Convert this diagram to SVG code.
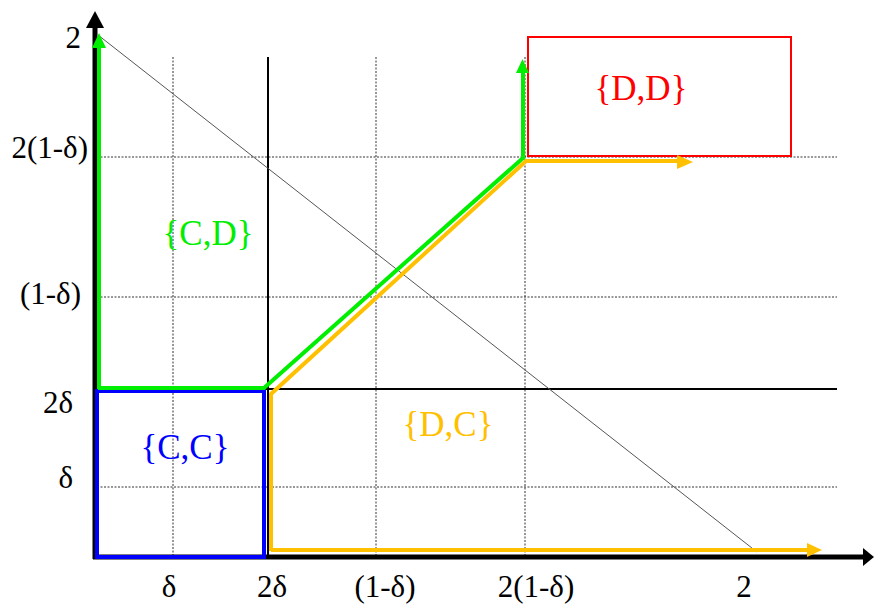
<svg xmlns="http://www.w3.org/2000/svg" width="874" height="606" viewBox="0 0 874 606">
<style>
.grid{stroke:#333;stroke-width:1;stroke-dasharray:2 1.5;fill:none}
.solid{stroke:#000;stroke-width:2;fill:none}
.axis{stroke:#000;stroke-width:5;fill:none}
.lbl{font-family:"Liberation Serif","Times New Roman",serif;font-size:31px;fill:#000}
.set{font-family:"Liberation Serif","Times New Roman",serif;font-size:35px;text-anchor:middle}
.g{stroke:#00EE00;stroke-width:4;fill:none}
.y{stroke:#FFC000;stroke-width:4;fill:none}
</style>
<rect width="874" height="606" fill="#fff"/>
<g id="grid">
<line class="grid" x1="173" y1="57" x2="173" y2="555"/>
<line class="grid" x1="376" y1="57" x2="376" y2="555"/>
<line class="grid" x1="525" y1="57" x2="525" y2="555"/>
<line class="grid" x1="97" y1="157" x2="837" y2="157"/>
<line class="grid" x1="97" y1="297" x2="837" y2="297"/>
<line class="grid" x1="97" y1="487" x2="837" y2="487"/>
<line class="solid" x1="268" y1="57" x2="268" y2="555"/>
<line class="solid" x1="97" y1="389" x2="837" y2="389"/>
</g>
<g id="axes">
<line class="axis" x1="95" y1="559" x2="95" y2="27"/>
<polygon points="86,28 95,11 104,28" fill="#000"/>
<line class="axis" x1="93" y1="557" x2="864" y2="557"/>
<polygon points="863,548 874,557 863,566" fill="#000"/>
</g>
<g id="diagonal">
<line x1="98" y1="35" x2="757" y2="552" stroke="#555" stroke-width="1"/>
</g>
<g id="labels">
<text class="lbl" x="81" y="48" text-anchor="end">2</text>
<text class="lbl" x="88" y="158" text-anchor="end">2(1-δ)</text>
<text class="lbl" x="81" y="304" text-anchor="end">(1-δ)</text>
<text class="lbl" x="73" y="413" text-anchor="end">2δ</text>
<text class="lbl" x="73" y="488" text-anchor="end">δ</text>
<text class="lbl" x="169" y="597" text-anchor="middle">δ</text>
<text class="lbl" x="272" y="597" text-anchor="middle">2δ</text>
<text class="lbl" x="385" y="597" text-anchor="middle">(1-δ)</text>
<text class="lbl" x="536" y="597" text-anchor="middle">2(1-δ)</text>
<text class="lbl" x="744" y="597" text-anchor="middle">2</text>
</g>
<g id="CC">
<rect x="97" y="391" width="167" height="166" fill="none" stroke="#0000FF" stroke-width="4"/>
<text class="set" x="185" y="459" fill="#0000FF">{C,C}</text>
</g>
<g id="DD">
<rect x="528" y="37" width="263" height="119" fill="none" stroke="#FF0000" stroke-width="2"/>
<text class="set" x="641" y="100" fill="#FF0000">{D,D}</text>
</g>
<g id="CD">
<text class="set" x="208" y="245" fill="#00EE00">{C,D}</text>
</g>
<g id="DC">
<text class="set" x="448" y="436" fill="#FFC000">{D,C}</text>
</g>
<g id="connectors">
<path class="g" d="M99,389 V47"/>
<polygon points="92,48 99,33 106,48" fill="#00EE00"/>
<path class="g" d="M98,388 H264 L523,158 V72"/>
<polygon points="516,73 522.5,59 529,73" fill="#00EE00"/>
<path class="y" d="M271,551 V394 L526,161 H678"/>
<polygon points="677,155 693,162 677,169" fill="#FFC000"/>
<path class="y" d="M271,550 H808"/>
<polygon points="807,543 822,550 807,557" fill="#FFC000"/>
</g>
</svg>
